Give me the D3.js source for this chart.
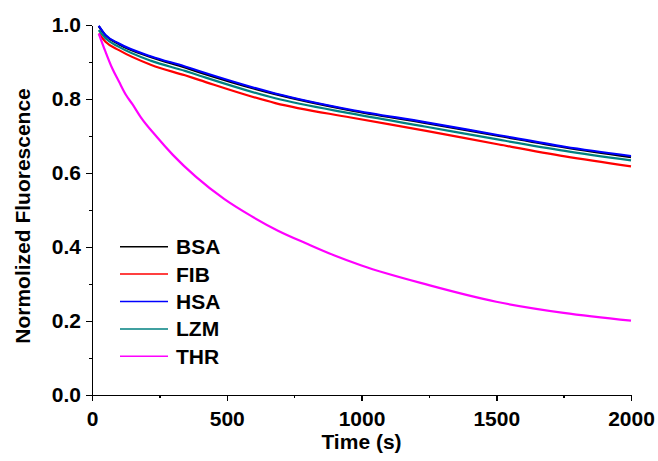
<!DOCTYPE html>
<html>
<head>
<meta charset="utf-8">
<script src="https://d3js.org/d3.v7.min.js"></script>
<style>
    body { margin: 0; background: #fff; }
    .axis path, .axis line { stroke: #000; stroke-width: 1.5px; shape-rendering: crispEdges; }
    .axis text { font-family: "Liberation Sans", Arial, sans-serif; font-weight: bold; font-size: 21px; fill: #000; }
    .axis-title, .legend text { font-family: "Liberation Sans", Arial, sans-serif; font-weight: bold; font-size: 21px; fill: #000; }
</style>
</head>
<body>
<div id="chart-area"></div>
<script>

// series names and colours (legend order)
var seriesNames = ["BSA", "FIB", "HSA", "LZM", "THR"];
var seriesColors = ["#000000", "#ff0000", "#0000ff", "#008080", "#ff00ff"];

// time points (s) for the four slow proteins
var proteinTimes = [25, 50, 100, 220, 345, 400, 680, 960, 1240, 1510, 1755, 2000];
var bsaValues = [0.997, 0.972, 0.948, 0.913, 0.885, 0.872, 0.813, 0.769, 0.735, 0.700, 0.669, 0.643];
var fibValues = [0.977, 0.955, 0.932, 0.892, 0.864, 0.851, 0.789, 0.750, 0.714, 0.677, 0.645, 0.618];
var hsaValues = [0.998, 0.973, 0.950, 0.915, 0.888, 0.875, 0.815, 0.771, 0.737, 0.702, 0.671, 0.646];
var lzmValues = [0.986, 0.964, 0.941, 0.903, 0.876, 0.863, 0.802, 0.761, 0.725, 0.690, 0.660, 0.634];

// thrombin decays much faster
var thrTimes = [25, 50, 75, 100, 125, 150, 180, 240, 300, 385, 490, 590, 690, 800, 900, 1000, 1250, 1500, 1750, 2000];
var thrValues = [0.977, 0.928, 0.883, 0.847, 0.812, 0.786, 0.752, 0.698, 0.649, 0.590, 0.530, 0.484, 0.444, 0.408, 0.377, 0.350, 0.297, 0.252, 0.222, 0.201];

// axis ticks
var xTicks = [0, 500, 1000, 1500, 2000];
var xMinorTicks = [250, 750, 1250, 1750];
var yTicks = [0.0, 0.2, 0.4, 0.6, 0.8, 1.0];
var yMinorTicks = [0.1, 0.3, 0.5, 0.7, 0.9];


FluorescenceChart = function(_parentElement){
    this.parentElement = _parentElement;
    this.displayData = [];

    this.initVis();
}

FluorescenceChart.prototype.initVis = function(){
    var vis = this;

    vis.margin = { top: 25, right: 27, bottom: 66, left: 92 };
    vis.width = 658 - vis.margin.left - vis.margin.right;
    vis.height = 461 - vis.margin.top - vis.margin.bottom;

    vis.svg = d3.select("#" + vis.parentElement).append("svg")
        .attr("width", 658)
        .attr("height", 461)
        .append("g")
        .attr("transform", "translate(" + vis.margin.left + "," + vis.margin.top + ")");

    vis.x = d3.scaleLinear()
        .domain([0, 2000])
        .range([0, vis.width]);

    vis.y = d3.scaleLinear()
        .domain([0, 1.0])
        .range([vis.height, 0]);

    // minor ticks first, no labels
    vis.svg.append("g")
        .attr("class", "axis")
        .attr("transform", "translate(0," + vis.height + ")")
        .call(d3.axisBottom(vis.x).tickValues(xMinorTicks).tickSize(3).tickFormat(""))
        .select(".domain").remove();

    vis.svg.append("g")
        .attr("class", "axis")
        .call(d3.axisLeft(vis.y).tickValues(yMinorTicks).tickSize(3).tickFormat(""))
        .select(".domain").remove();

    vis.svg.append("g")
        .attr("class", "x-axis axis")
        .attr("transform", "translate(0," + vis.height + ")")
        .call(d3.axisBottom(vis.x).tickValues(xTicks).tickSize(6).tickSizeOuter(0).tickPadding(10)
            .tickFormat(d3.format("d")));

    vis.svg.append("g")
        .attr("class", "y-axis axis")
        .call(d3.axisLeft(vis.y).tickValues(yTicks).tickSize(6).tickSizeOuter(0).tickPadding(5)
            .tickFormat(d3.format(".1f")));

    // axis titles
    vis.svg.append("text")
        .attr("class", "axis-title")
        .attr("x", vis.width / 2)
        .attr("y", vis.height + 54)
        .attr("text-anchor", "middle")
        .text("Time (s)");

    vis.svg.append("text")
        .attr("class", "axis-title")
        .attr("transform", "translate(" + (30 - vis.margin.left) + "," + (216 - vis.margin.top) + ") rotate(-90)")
        .attr("text-anchor", "middle")
        .text("Normolized Fluorescence");

    vis.line = d3.line()
        .x(function(d) { return vis.x(d.t); })
        .y(function(d) { return vis.y(d.v); })
        .curve(d3.curveMonotoneX);

    vis.wrangleData();
}

FluorescenceChart.prototype.wrangleData = function(){
    var vis = this;

    var valueLists = [bsaValues, fibValues, hsaValues, lzmValues, thrValues];
    var timeLists = [proteinTimes, proteinTimes, proteinTimes, proteinTimes, thrTimes];

    vis.displayData = seriesNames.map(function(name, i){
        return {
            name: name,
            color: seriesColors[i],
            values: timeLists[i].map(function(t, j){ return { t: t, v: valueLists[i][j] }; })
        };
    });

    vis.updateVis();
}

FluorescenceChart.prototype.updateVis = function(){
    var vis = this;

    vis.svg.selectAll(".line")
        .data(vis.displayData)
        .enter().append("path")
        .attr("class", "line")
        .attr("d", function(d){ return vis.line(d.values); })
        .attr("fill", "none")
        .style("stroke", function(d){ return d.color; })
        .style("stroke-width", 2.2);

    // legend
    var legend = vis.svg.append("g")
        .attr("class", "legend")
        .attr("transform", "translate(" + (120 - vis.margin.left) + "," + (246.7 - vis.margin.top) + ")");

    var rows = legend.selectAll(".legend-row")
        .data(vis.displayData)
        .enter().append("g")
        .attr("class", "legend-row")
        .attr("transform", function(d, i){ return "translate(0," + (i * 27.4) + ")"; });

    rows.append("line")
        .attr("x1", 0)
        .attr("x2", 48)
        .attr("y1", 0)
        .attr("y2", 0)
        .style("stroke", function(d){ return d.color; })
        .style("stroke-width", 1.5);

    rows.append("text")
        .attr("x", 56)
        .attr("dy", "0.36em")
        .text(function(d){ return d.name; });
}

var chart = new FluorescenceChart("chart-area");

</script>
</body>
</html>
